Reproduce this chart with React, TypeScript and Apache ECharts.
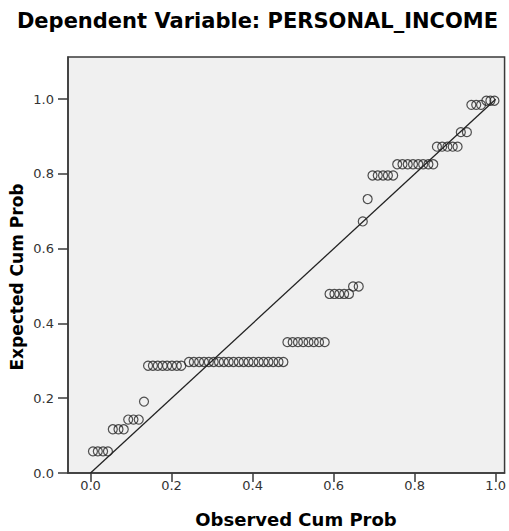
import React, { useEffect, useRef } from 'react';
import * as echarts from 'echarts';

const titleText = 'Dependent Variable: PERSONAL_INCOME';
const xAxisTitle = 'Observed Cum Prob';
const yAxisTitle = 'Expected Cum Prob';
const tickValues = [0, 0.2, 0.4, 0.6, 0.8, 1.0];

const observedCumProb = [
  0.006, 0.018, 0.031, 0.043,
  0.055, 0.069, 0.082,
  0.093, 0.106, 0.119,
  0.132,
  0.142, 0.154, 0.166, 0.178, 0.189, 0.201, 0.213, 0.224,
  0.243, 0.255, 0.268, 0.28, 0.292, 0.304, 0.317, 0.329, 0.341, 0.353,
  0.366, 0.378, 0.39, 0.402, 0.415, 0.427, 0.439, 0.451, 0.464, 0.476,
  0.486, 0.499, 0.512, 0.525, 0.538, 0.551, 0.564, 0.578,
  0.59, 0.602, 0.614, 0.626, 0.638,
  0.648, 0.662,
  0.672,
  0.684,
  0.696, 0.709, 0.722, 0.734, 0.747,
  0.757, 0.77, 0.783, 0.796, 0.809, 0.821, 0.834, 0.846,
  0.855, 0.868, 0.881, 0.894, 0.906,
  0.914, 0.929,
  0.94, 0.952, 0.964,
  0.977, 0.987, 0.997,
];

const expectedCumProb = [
  0.058, 0.058, 0.058, 0.058,
  0.117, 0.117, 0.117,
  0.143, 0.143, 0.143,
  0.191,
  0.287, 0.287, 0.287, 0.287, 0.287, 0.287, 0.287, 0.287,
  0.297, 0.297, 0.297, 0.297, 0.297, 0.297, 0.297, 0.297, 0.297, 0.297,
  0.297, 0.297, 0.297, 0.297, 0.297, 0.297, 0.297, 0.297, 0.297, 0.297,
  0.35, 0.35, 0.35, 0.35, 0.35, 0.35, 0.35, 0.35,
  0.479, 0.479, 0.479, 0.479, 0.479,
  0.499, 0.499,
  0.673,
  0.733,
  0.796, 0.796, 0.796, 0.796, 0.796,
  0.826, 0.826, 0.826, 0.826, 0.826, 0.826, 0.826, 0.826,
  0.873, 0.873, 0.873, 0.873, 0.873,
  0.912, 0.912,
  0.985, 0.985, 0.985,
  0.996, 0.996, 0.996,
];

const referenceLine = [
  [0, 0],
  [1, 1],
];

const FONT = '"DejaVu Sans", "Liberation Sans", Arial, sans-serif';
const AXIS_COLOR = '#3a3a3a';

export default function App() {
  const ref = useRef<HTMLDivElement>(null);

  useEffect(() => {
    const chart = echarts.init(ref.current as HTMLDivElement, null, { renderer: 'svg' });
    const points = observedCumProb.map((x, i) => [x, expectedCumProb[i]]);
    chart.setOption({
      animation: false,
      backgroundColor: '#ffffff',
      grid: {
        left: 68,
        top: 57,
        right: 1,
        bottom: 58,
        show: true,
        backgroundColor: '#f0f0f0',
        borderColor: AXIS_COLOR,
        borderWidth: 1.5,
      },
      xAxis: {
        type: 'value',
        min: -0.0556,
        max: 1.022,
        splitLine: { show: false },
        axisLine: { show: true, onZero: false, lineStyle: { color: AXIS_COLOR, width: 1.5 } },
        axisTick: { show: true, length: 9, customValues: tickValues, lineStyle: { color: AXIS_COLOR, width: 1.5 } },
        axisLabel: {
          customValues: tickValues,
          formatter: (v: number) => v.toFixed(1),
          margin: 6,
          fontFamily: FONT,
          fontSize: 13,
          color: '#333',
        },
      },
      yAxis: {
        type: 'value',
        min: 0,
        max: 1.113,
        splitLine: { show: false },
        axisLine: { show: true, onZero: false, lineStyle: { color: AXIS_COLOR, width: 1.5 } },
        axisTick: { show: true, length: 10, customValues: tickValues, lineStyle: { color: AXIS_COLOR, width: 1.5 } },
        axisLabel: {
          customValues: tickValues,
          formatter: (v: number) => v.toFixed(1),
          margin: 14,
          fontFamily: FONT,
          fontSize: 13,
          color: '#333',
        },
      },
      series: [
        {
          type: 'scatter',
          data: points,
          symbol: 'circle',
          symbolSize: 9,
          itemStyle: { color: 'rgba(0,0,0,0)', borderColor: '#262626', borderWidth: 1.2 },
          z: 2,
        },
        {
          type: 'line',
          data: referenceLine,
          symbol: 'none',
          showSymbol: false,
          lineStyle: { color: '#222', width: 1.3 },
          z: 3,
        },
      ],
      graphic: [
        {
          type: 'text',
          x: 257.5,
          y: 21,
          style: {
            text: titleText,
            fontFamily: FONT,
            fontSize: 21,
            fontWeight: 'bold',
            fill: '#000',
            align: 'center',
            verticalAlign: 'middle',
          },
        },
        {
          type: 'text',
          x: 296,
          y: 519,
          style: {
            text: xAxisTitle,
            fontFamily: FONT,
            fontSize: 18,
            fontWeight: 'bold',
            fill: '#000',
            align: 'center',
            verticalAlign: 'middle',
          },
        },
        {
          type: 'text',
          x: 17,
          y: 277,
          rotation: Math.PI / 2,
          style: {
            text: yAxisTitle,
            fontFamily: FONT,
            fontSize: 17,
            fontWeight: 'bold',
            fill: '#000',
            align: 'center',
            verticalAlign: 'middle',
          },
        },
      ],
    });
    return () => chart.dispose();
  }, []);

  return (
    <div
      ref={ref}
      style={{ position: 'fixed', left: 0, top: 0, width: 509, height: 531 }}
    />
  );
}
